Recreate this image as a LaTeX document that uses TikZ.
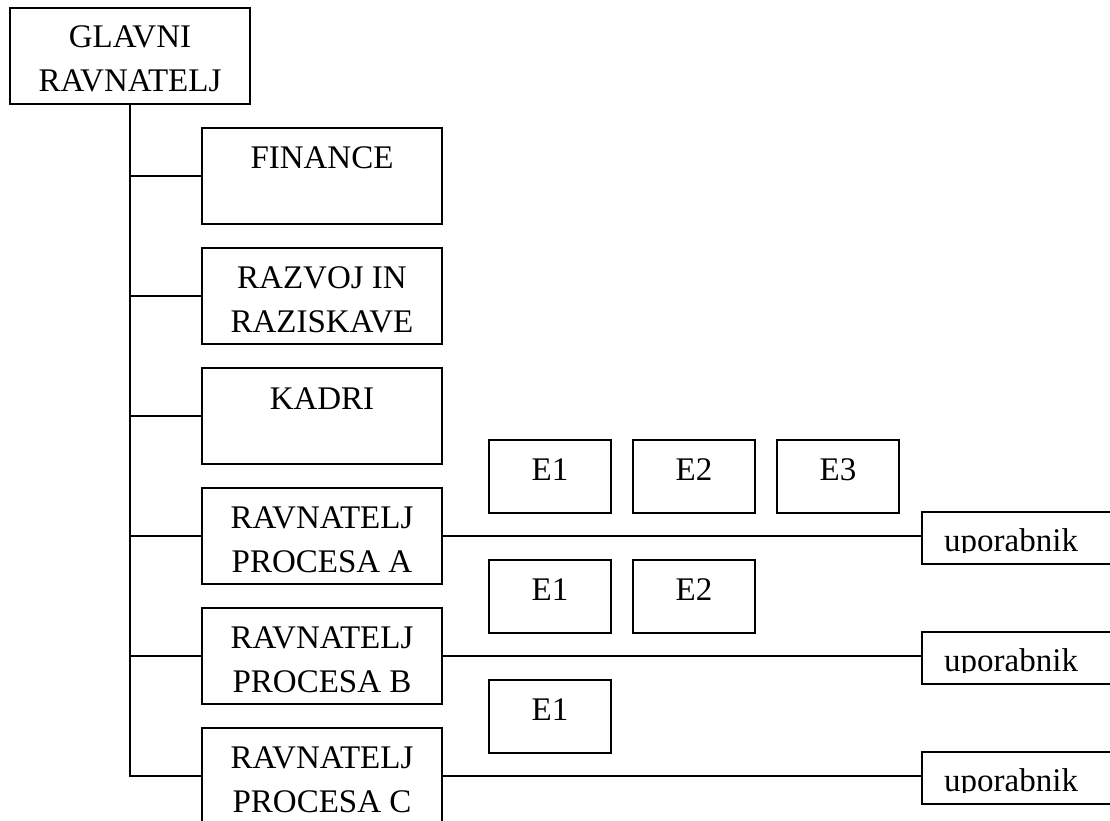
\documentclass[tikz,border=0pt]{standalone}
\usepackage{fontspec}
\setmainfont{Liberation Serif}
\begin{document}
\begin{tikzpicture}[x=1pt,y=-1pt,
  box/.style={draw, line width=1.6pt, rectangle, inner sep=0pt, outer sep=0pt, anchor=north west},
  dept/.style={box, minimum width=240pt, minimum height=96pt},
  ebox/.style={box, minimum width=122pt, minimum height=73pt},
  ubox/.style={box, minimum width=220pt, minimum height=52pt},
  lbl/.style={anchor=base, inner sep=0pt, font=\fontsize{33}{44}\selectfont},
  link/.style={line width=1.6pt}]
\clip (0,0) rectangle (1110,821);

% head of the organisation
\node[dept] (g) at (10,8) {};
\node[lbl] at ([yshift=-40pt]g.north) {GLAVNI};
\node[lbl] at ([yshift=-84pt]g.north) {RAVNATELJ};

% departments
\node[dept] (fin) at (202,128) {};
\node[lbl] at ([yshift=-41pt]fin.north) {FINANCE};

\node[dept] (rd) at (202,248) {};
\node[lbl] at ([yshift=-40pt]rd.north) {RAZVOJ IN};
\node[lbl] at ([yshift=-84pt]rd.north) {RAZISKAVE};

\node[dept] (kad) at (202,368) {};
\node[lbl] at ([yshift=-41pt]kad.north) {KADRI};

\node[dept] (pa) at (202,488) {};
\node[lbl] at ([yshift=-40pt]pa.north) {RAVNATELJ};
\node[lbl] at ([yshift=-84pt]pa.north) {PROCESA A};

\node[dept] (pb) at (202,608) {};
\node[lbl] at ([yshift=-40pt]pb.north) {RAVNATELJ};
\node[lbl] at ([yshift=-84pt]pb.north) {PROCESA B};

\node[dept] (pc) at (202,728) {};
\node[lbl] at ([yshift=-40pt]pc.north) {RAVNATELJ};
\node[lbl] at ([yshift=-84pt]pc.north) {PROCESA C};

% process elements
\node[ebox] (ea1) at (489,440) {};
\node[lbl] at ([yshift=-40pt]ea1.north) {E1};
\node[ebox] (ea2) at (633,440) {};
\node[lbl] at ([yshift=-40pt]ea2.north) {E2};
\node[ebox] (ea3) at (777,440) {};
\node[lbl] at ([yshift=-40pt]ea3.north) {E3};

\node[ebox] (eb1) at (489,560) {};
\node[lbl] at ([yshift=-40pt]eb1.north) {E1};
\node[ebox] (eb2) at (633,560) {};
\node[lbl] at ([yshift=-40pt]eb2.north) {E2};

\node[ebox] (ec1) at (489,680) {};
\node[lbl] at ([yshift=-40pt]ec1.north) {E1};

% users
\node[ubox] (ua) at (922,512) {};
\node[ubox] (ub) at (922,632) {};
\node[ubox] (uc) at (922,752) {};
\foreach \u in {ua,ub,uc}{
  \begin{scope}
    \clip (\u.north west) rectangle ([yshift=-40pt]\u.north east);
    \node[lbl, anchor=base west] at ([xshift=22pt,yshift=-39pt]\u.north west) {uporabnik};
  \end{scope}
}

% trunk and branches
\draw[link] (g.south) |- (pc.west);
\foreach \b in {fin,rd,kad,pa,pb}{
  \draw[link] (g.south |- \b.west) -- (\b.west);
}

% process lines to users
\draw[link] (pa.east) -- (pa.east -| ua.west);
\draw[link] (pb.east) -- (pb.east -| ub.west);
\draw[link] (pc.east) -- (pc.east -| uc.west);
\end{tikzpicture}
\end{document}
